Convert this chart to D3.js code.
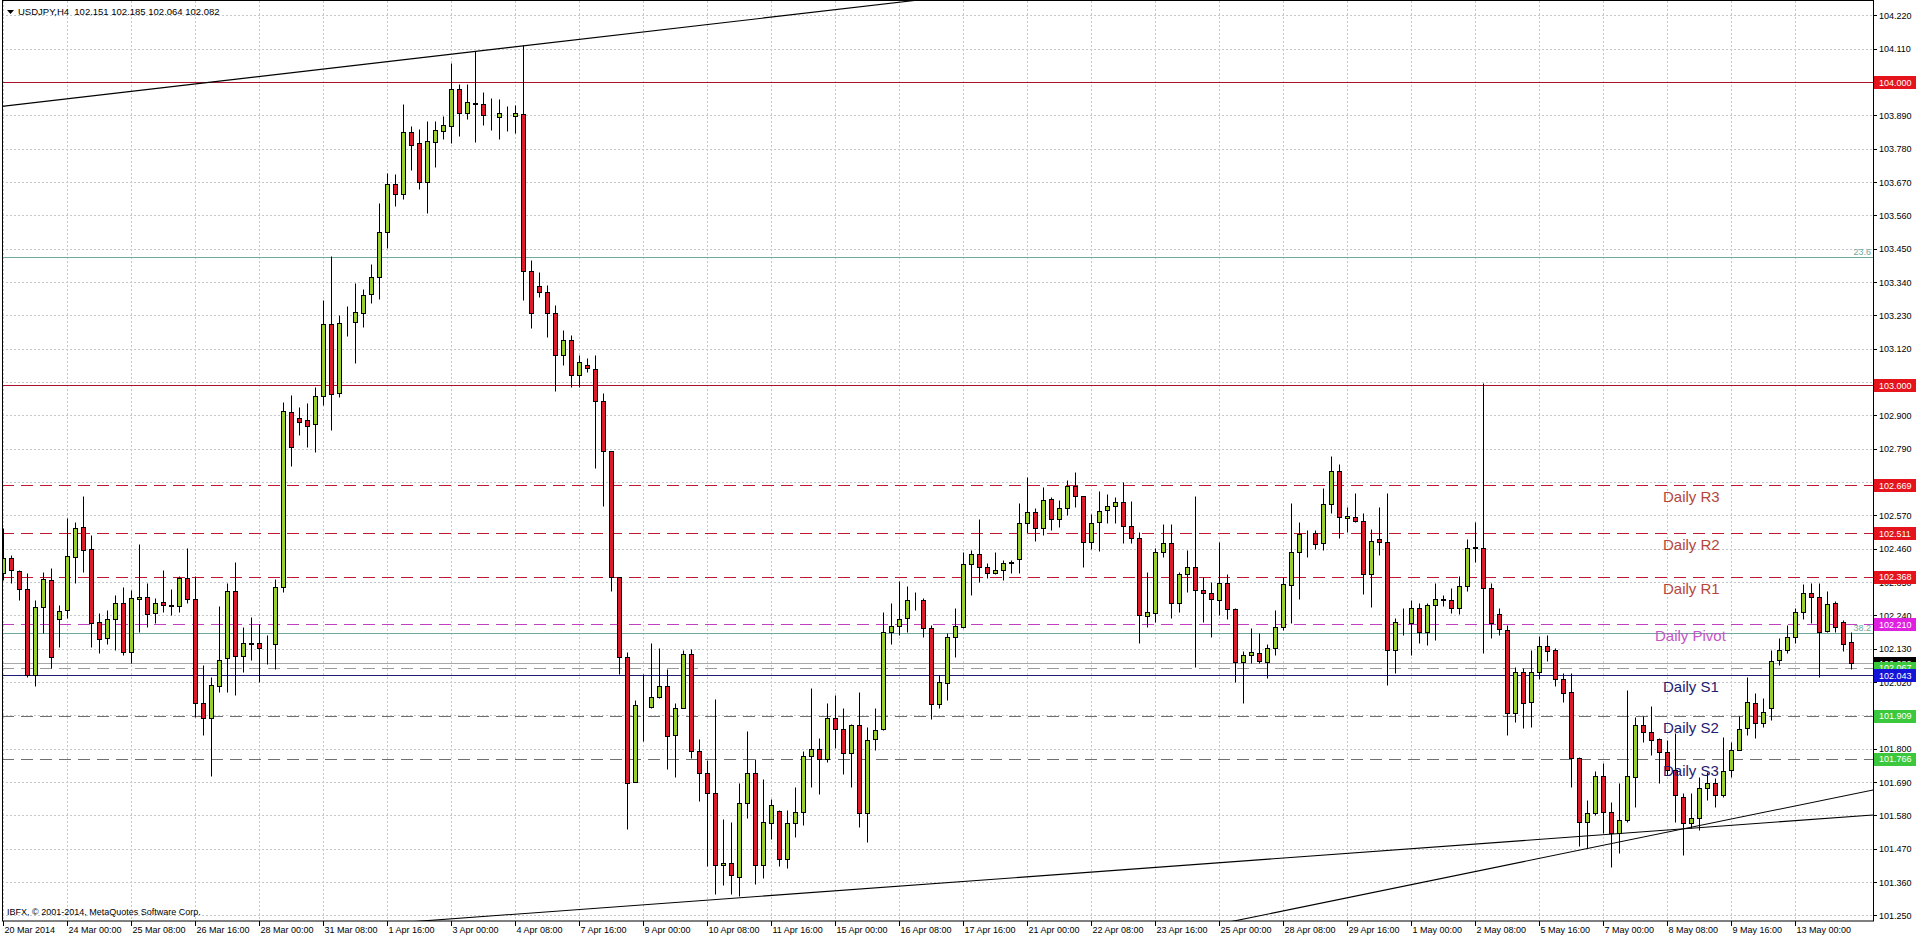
<!DOCTYPE html>
<html>
<head>
<meta charset="utf-8">
<script src="https://cdn.jsdelivr.net/npm/d3@7/dist/d3.min.js"></script>
<style>
  html, body { margin: 0; padding: 0; background: #ffffff; }
  svg { display: block; }
  text { font-family: "Liberation Sans", Arial, sans-serif; }
</style>
</head>
<body>
<svg id="chart" width="1916" height="939"></svg>
<script>
// ---------------- DATA ----------------
const symbolTitle = "USDJPY,H4";
const lastOHLC = [102.151, 102.185, 102.064, 102.082];

const timeLabels = [
  "20 Mar 2014", "24 Mar 00:00", "25 Mar 08:00", "26 Mar 16:00", "28 Mar 00:00",
  "31 Mar 08:00", "1 Apr 16:00", "3 Apr 00:00", "4 Apr 08:00", "7 Apr 16:00",
  "9 Apr 00:00", "10 Apr 08:00", "11 Apr 16:00", "15 Apr 00:00", "16 Apr 08:00",
  "17 Apr 16:00", "21 Apr 00:00", "22 Apr 08:00", "23 Apr 16:00", "25 Apr 00:00",
  "28 Apr 08:00", "29 Apr 16:00", "1 May 00:00", "2 May 08:00", "5 May 16:00",
  "7 May 00:00", "8 May 08:00", "9 May 16:00", "13 May 00:00"
];
const barsPerLabel = 8;

const priceTicks = [
  104.220, 104.110, 104.000, 103.890, 103.780, 103.670, 103.560, 103.450, 103.340,
  103.230, 103.120, 103.010, 102.900, 102.790, 102.680, 102.570, 102.460, 102.350,
  102.240, 102.130, 102.020, 101.910, 101.800, 101.690, 101.580, 101.470, 101.360, 101.250
];

const open = [
  102.379,102.429,102.386,102.326,102.042,102.267,102.356,102.227,102.257,102.432,
  102.531,102.458,102.217,102.165,102.227,102.280,102.118,102.293,102.300,102.247,
  102.283,102.273,102.270,102.362,102.293,101.950,101.900,102.006,102.099,102.320,
  102.105,102.148,102.148,102.138,102.145,102.333,102.910,102.891,102.884,102.871,
  102.963,103.201,102.973,103.204,103.207,103.237,103.300,103.356,103.504,103.663,
  103.630,103.834,103.798,103.669,103.801,103.838,103.854,103.977,103.897,103.930,
  103.927,103.887,103.884,103.894,103.887,103.894,103.376,103.327,103.307,103.237,
  103.099,103.148,103.033,103.066,103.053,102.947,102.782,102.366,102.102,101.690,
  101.937,101.937,101.970,102.006,101.844,101.934,102.112,101.792,101.719,101.653,
  101.416,101.422,101.376,101.620,101.719,101.416,101.554,101.594,101.435,101.554,
  101.590,101.775,101.798,101.765,101.900,101.864,101.785,101.877,101.587,101.831,
  101.864,102.184,102.204,102.231,102.290,102.290,102.198,101.947,102.016,102.168,
  102.201,102.409,102.442,102.399,102.379,102.389,102.412,102.425,102.544,102.580,
  102.528,102.623,102.557,102.594,102.666,102.633,102.481,102.547,102.587,102.600,
  102.613,102.534,102.495,102.237,102.247,102.448,102.478,102.280,102.376,102.399,
  102.323,102.313,102.290,102.346,102.260,102.085,102.108,102.115,102.085,102.132,
  102.201,102.339,102.448,102.508,102.511,102.478,102.607,102.716,102.561,102.564,
  102.551,102.376,102.491,102.481,102.125,102.217,102.214,102.264,102.184,102.273,
  102.293,102.290,102.264,102.336,102.462,102.462,102.330,102.244,102.191,101.917,
  102.052,101.953,102.052,102.138,102.125,102.029,101.986,101.769,101.557,101.587,
  101.709,101.590,101.521,101.564,101.706,101.877,101.854,101.831,101.788,101.729,
  101.640,101.554,101.571,101.670,101.686,101.647,101.729,101.795,101.868,101.950,
  101.884,101.934,102.092,102.125,102.168,102.250,102.313,102.300,102.188,102.280,
  102.217,102.151
];
const high = [
  102.528,102.438,102.389,102.379,102.290,102.382,102.395,102.273,102.561,102.548,
  102.633,102.504,102.247,102.257,102.306,102.333,102.323,102.475,102.346,102.297,
  102.389,102.326,102.369,102.462,102.369,102.075,102.036,102.270,102.346,102.415,
  102.201,102.234,102.211,102.174,102.359,102.943,102.967,102.927,102.940,102.993,
  103.280,103.425,103.230,103.260,103.336,103.316,103.399,103.600,103.699,103.696,
  103.927,103.854,103.844,103.871,103.871,103.887,104.063,103.994,103.994,104.103,
  103.967,103.947,103.944,103.920,103.924,104.122,103.412,103.373,103.330,103.264,
  103.181,103.165,103.099,103.089,103.099,102.973,102.782,102.366,102.118,101.960,
  102.046,102.148,102.132,102.062,101.950,102.125,102.128,101.832,101.762,101.963,
  101.567,101.557,101.686,101.858,101.765,101.699,101.633,101.597,101.597,101.673,
  101.792,101.999,101.835,101.950,101.976,101.934,101.881,101.986,101.871,101.934,
  102.250,102.280,102.353,102.336,102.316,102.297,102.207,102.042,102.181,102.264,
  102.448,102.455,102.557,102.412,102.448,102.422,102.422,102.610,102.696,102.594,
  102.663,102.630,102.620,102.686,102.712,102.633,102.574,102.650,102.640,102.630,
  102.679,102.617,102.514,102.382,102.462,102.541,102.541,102.382,102.455,102.633,
  102.366,102.349,102.481,102.376,102.264,102.122,102.198,102.181,102.145,102.257,
  102.366,102.610,102.548,102.521,102.521,102.660,102.765,102.739,102.597,102.643,
  102.577,102.524,102.597,102.643,102.231,102.264,102.290,102.280,102.280,102.346,
  102.306,102.330,102.369,102.491,102.548,103.006,102.346,102.264,102.207,102.069,
  102.066,102.125,102.171,102.174,102.132,102.049,102.049,101.772,101.630,101.726,
  101.752,101.623,101.686,101.993,101.904,101.907,101.940,101.835,101.828,101.851,
  101.653,101.653,101.706,101.723,101.703,101.838,101.822,101.907,102.036,101.983,
  101.966,102.125,102.165,102.207,102.264,102.343,102.346,102.346,102.320,102.287,
  102.224,102.185
];
const low = [
  102.356,102.346,102.290,102.036,102.006,102.181,102.066,102.135,102.231,102.346,
  102.382,102.135,102.115,102.145,102.125,102.108,102.082,102.184,102.201,102.214,
  102.250,102.240,102.250,102.280,101.904,101.844,101.709,101.986,101.986,101.976,
  102.052,102.092,102.019,102.079,102.062,102.316,102.733,102.835,102.795,102.778,
  102.933,102.851,102.960,103.161,103.072,103.191,103.270,103.283,103.452,103.590,
  103.614,103.709,103.646,103.567,103.719,103.811,103.798,103.821,103.877,103.801,
  103.858,103.841,103.811,103.838,103.831,103.280,103.188,103.290,103.158,102.980,
  103.066,102.993,102.993,103.043,102.726,102.600,102.320,102.046,101.534,101.690,
  101.825,101.934,101.966,101.732,101.706,101.934,101.769,101.627,101.412,101.320,
  101.350,101.320,101.313,101.571,101.353,101.373,101.501,101.412,101.406,101.508,
  101.548,101.673,101.650,101.755,101.802,101.716,101.673,101.541,101.492,101.795,
  101.861,102.145,102.174,102.184,102.257,102.168,101.897,101.934,101.960,102.102,
  102.198,102.306,102.349,102.362,102.376,102.356,102.379,102.379,102.511,102.485,
  102.504,102.521,102.531,102.570,102.597,102.399,102.458,102.452,102.544,102.544,
  102.478,102.478,102.148,102.201,102.217,102.432,102.231,102.250,102.316,102.069,
  102.217,102.168,102.240,102.227,102.019,101.950,102.082,102.082,102.033,102.108,
  102.191,102.214,102.293,102.432,102.458,102.455,102.577,102.495,102.514,102.548,
  102.310,102.267,102.438,102.009,102.049,102.174,102.108,102.148,102.142,102.158,
  102.270,102.247,102.244,102.320,102.415,102.115,102.165,102.174,101.844,101.887,
  101.867,101.871,102.029,102.089,102.006,101.953,101.673,101.478,101.472,101.580,
  101.521,101.409,101.455,101.557,101.607,101.822,101.779,101.686,101.712,101.557,
  101.449,101.538,101.531,101.630,101.607,101.640,101.706,101.795,101.844,101.835,
  101.871,101.894,102.075,102.115,102.148,102.227,102.214,102.036,102.184,102.184,
  102.122,102.064
];
const close = [
  102.429,102.389,102.326,102.042,102.267,102.359,102.102,102.254,102.435,102.528,
  102.455,102.214,102.161,102.227,102.280,102.118,102.297,102.300,102.244,102.280,
  102.273,102.270,102.362,102.293,101.950,101.900,102.009,102.092,102.320,102.105,
  102.148,102.147,102.132,102.138,102.333,102.914,102.795,102.877,102.864,102.963,
  103.201,102.970,103.204,103.204,103.240,103.296,103.356,103.504,103.663,103.630,
  103.834,103.791,103.669,103.805,103.841,103.858,103.977,103.897,103.934,103.927,
  103.890,103.887,103.897,103.894,103.897,103.376,103.237,103.307,103.237,103.099,
  103.148,103.033,103.076,103.056,102.947,102.782,102.366,102.102,101.686,101.944,
  101.937,101.970,102.006,101.841,101.934,102.112,101.792,101.719,101.653,101.416,
  101.422,101.383,101.620,101.719,101.416,101.557,101.613,101.435,101.554,101.590,
  101.775,101.798,101.765,101.900,101.864,101.785,101.877,101.587,101.828,101.861,
  102.184,102.204,102.227,102.290,102.290,102.198,101.947,102.019,102.168,102.204,
  102.409,102.442,102.399,102.379,102.389,102.412,102.415,102.544,102.580,102.528,
  102.620,102.557,102.594,102.666,102.633,102.481,102.544,102.584,102.600,102.613,
  102.534,102.495,102.240,102.250,102.448,102.478,102.280,102.376,102.399,102.323,
  102.313,102.293,102.346,102.260,102.085,102.108,102.118,102.089,102.132,102.201,
  102.343,102.448,102.508,102.508,102.475,102.607,102.716,102.564,102.567,102.551,
  102.376,102.485,102.481,102.125,102.217,102.217,102.264,102.184,102.273,102.293,
  102.290,102.264,102.336,102.462,102.465,102.330,102.214,102.194,101.917,102.052,
  101.950,102.052,102.138,102.122,102.029,101.983,101.769,101.557,101.587,101.709,
  101.590,101.521,101.564,101.709,101.877,101.854,101.828,101.788,101.729,101.647,
  101.554,101.571,101.670,101.686,101.647,101.726,101.795,101.864,101.953,101.884,
  101.920,102.089,102.125,102.168,102.250,102.313,102.300,102.184,102.277,102.201,
  102.145,102.082
];

// pivot levels (Daily)
const pivotNames  = ["Daily R3", "Daily R2", "Daily R1", "Daily Pivot", "Daily S1", "Daily S2", "Daily S3"];
const pivotValues = [102.669, 102.511, 102.368, 102.210, 102.043, 101.909, 101.766];
// round-number horizontal lines
const roundLevels = [104.000, 103.000];
// fibonacci levels
const fibNames  = ["23.6", "38.2"];
const fibValues = [103.421, 102.182];
// bid line and extra line
const bidPrice = 102.082;
const extraLevel = 102.067;
// trend lines: [barIndex, price] pairs
const trendStart = [[0, 103.920], [89, 101.302], [171, 101.324]];
const trendEnd   = [[110, 104.257], [229, 101.572], [229, 101.638]];

// ---------------- DRAW ----------------
const W = 1916, H = 939;
const L = 2, T = 1, R = 1873, B = 921;
const nBars = open.length;

const svg = d3.select("#chart");
svg.append("rect").attr("width", W).attr("height", H).attr("fill", "#ffffff");

const x = d3.scaleLinear().domain([0, nBars - 1]).range([3, 3 + 8 * (nBars - 1)]);
const y = d3.scaleLinear().domain([101.228, 104.264]).range([922, 2]);
const px = v => Math.round(x(v)) + 0.5;
const py = v => Math.round(y(v)) + 0.5;

svg.append("defs").append("clipPath").attr("id", "plotClip")
  .append("rect").attr("x", L).attr("y", T).attr("width", R - L).attr("height", B - T);

const plot = svg.append("g").attr("clip-path", "url(#plotClip)");

// grid
const gridColor = "#c4c8cc";
plot.append("g").selectAll("line").data(priceTicks).join("line")
  .attr("x1", L).attr("x2", R)
  .attr("y1", d => py(d)).attr("y2", d => py(d))
  .attr("stroke", gridColor).attr("stroke-dasharray", "2,2").attr("stroke-width", 1);
const labelIdx = timeLabels.map((d, k) => k * barsPerLabel);
plot.append("g").selectAll("line").data(labelIdx).join("line")
  .attr("x1", d => px(d)).attr("x2", d => px(d))
  .attr("y1", T).attr("y2", B)
  .attr("stroke", gridColor).attr("stroke-dasharray", "2,2").attr("stroke-width", 1);

// fib levels
const fibColor = "#6fa8a0";
plot.append("g").selectAll("line").data(fibValues).join("line")
  .attr("x1", L).attr("x2", R)
  .attr("y1", d => py(d)).attr("y2", d => py(d))
  .attr("stroke", fibColor).attr("stroke-width", 1);

// round levels
plot.append("g").selectAll("line").data(roundLevels).join("line")
  .attr("x1", L).attr("x2", R)
  .attr("y1", d => py(d)).attr("y2", d => py(d))
  .attr("stroke", "#a8142c").attr("stroke-width", 1);

// pivot lines
const pivotLineColors = ["#c01830", "#c01830", "#c01830", "#c040c0", "#1c1c70", "#707070", "#707070"];
const pivotLineDash   = ["12,7", "12,7", "12,7", "12,7", null, "12,7", "12,7"];
plot.append("g").selectAll("line").data(pivotValues).join("line")
  .attr("x1", L).attr("x2", R)
  .attr("y1", d => py(d)).attr("y2", d => py(d))
  .attr("stroke", (d, i) => pivotLineColors[i])
  .attr("stroke-dasharray", (d, i) => pivotLineDash[i])
  .attr("stroke-width", 1);

// bid + extra lines
plot.append("line").attr("x1", L).attr("x2", R)
  .attr("y1", py(bidPrice)).attr("y2", py(bidPrice))
  .attr("stroke", "#a8a8a8").attr("stroke-width", 1);
plot.append("line").attr("x1", L).attr("x2", R)
  .attr("y1", py(extraLevel)).attr("y2", py(extraLevel))
  .attr("stroke", "#9a9a9a").attr("stroke-dasharray", "12,7").attr("stroke-width", 1);

// trend lines (extended across the chart)
const trendData = trendStart.map((s, i) => [s, trendEnd[i]]);
plot.append("g").selectAll("line").data(trendData).join("line")
  .each(function (d) {
    const [a, b] = d;
    const slope = (b[1] - a[1]) / (b[0] - a[0]);
    const i0 = -5, i1 = nBars + 5;
    d3.select(this)
      .attr("x1", x(i0)).attr("y1", y(a[1] + slope * (i0 - a[0])))
      .attr("x2", x(i1)).attr("y2", y(a[1] + slope * (i1 - a[0])));
  })
  .attr("stroke", "#000").attr("stroke-width", 1.1);

// candles
const bars = d3.range(nBars);
const bullFill = "#9acd32", bearFill = "#dc1a2a";
const cg = plot.append("g");
cg.selectAll("line.wick").data(bars).join("line").attr("class", "wick")
  .attr("x1", i => px(i)).attr("x2", i => px(i))
  .attr("y1", i => py(high[i])).attr("y2", i => py(low[i]))
  .attr("stroke", "#000").attr("stroke-width", 1);
cg.selectAll("rect.body").data(bars).join("rect").attr("class", "body")
  .attr("x", i => Math.round(x(i)) - 1.5)
  .attr("width", 4)
  .attr("y", i => py(Math.max(open[i], close[i])))
  .attr("height", i => Math.max(0, py(Math.min(open[i], close[i])) - py(Math.max(open[i], close[i]))))
  .attr("fill", i => close[i] >= open[i] ? bullFill : bearFill)
  .attr("stroke", "#000").attr("stroke-width", 1);

// pivot texts
const pivotTextColors = ["#b4463c", "#b4463c", "#b4463c", "#c455c4", "#1e2070", "#1e2070", "#1e2070"];
const pivotTextX = [1663, 1663, 1663, 1655, 1663, 1663, 1663];
plot.append("g").selectAll("text").data(pivotNames).join("text")
  .attr("x", (d, i) => pivotTextX[i])
  .attr("y", (d, i) => y(pivotValues[i]) + 17)
  .attr("font-size", 15)
  .attr("fill", (d, i) => pivotTextColors[i])
  .text(d => d);

// fib texts
plot.append("g").selectAll("text").data(fibNames).join("text")
  .attr("x", R - 2)
  .attr("y", (d, i) => y(fibValues[i]) - 2)
  .attr("text-anchor", "end").attr("font-size", 9).attr("fill", fibColor)
  .text(d => d);

// header
svg.append("path").attr("d", "M7,10 L14,10 L10.5,14 Z").attr("fill", "#000");
svg.append("text").attr("x", 18).attr("y", 15).attr("font-size", 9.5).attr("fill", "#000")
  .attr("xml:space", "preserve")
  .text(symbolTitle + "  " + lastOHLC.map(v => v.toFixed(3)).join(" "));

// copyright
svg.append("text").attr("x", 7).attr("y", 915).attr("font-size", 9).attr("fill", "#000")
  .text("IBFX, \u00A9 2001-2014, MetaQuotes Software Corp.");

// frame
svg.append("rect").attr("x", L + 0.5).attr("y", T - 0.5).attr("width", R - L).attr("height", B - T + 0.5)
  .attr("fill", "none").attr("stroke", "#000").attr("stroke-width", 1);

// price label boxes on the axis (values)
const boxValues = [roundLevels[0], roundLevels[1], pivotValues[0], pivotValues[1], pivotValues[2], pivotValues[3],
                   bidPrice, extraLevel, pivotValues[4], pivotValues[5], pivotValues[6]];
const boxColors = ["#e5141c", "#e5141c", "#e5141c", "#e5141c", "#e5141c", "#e020e0",
                   "#000000", "#3cc83c", "#1414d8", "#3cc83c", "#3cc83c"];

// right axis ticks and labels (labels fully covered by a box are not drawn)
const ya = svg.append("g");
ya.selectAll("line").data(priceTicks).join("line")
  .attr("x1", R).attr("x2", R + 4)
  .attr("y1", d => py(d)).attr("y2", d => py(d)).attr("stroke", "#000");
const visibleTicks = priceTicks.filter(t => boxValues.every(b => Math.abs(y(t) - y(b)) > 4));
ya.selectAll("text").data(visibleTicks).join("text")
  .attr("x", R + 6).attr("y", d => y(d) + 3.5)
  .attr("font-size", 9).attr("fill", "#000")
  .text(d => d.toFixed(3));

// bottom axis ticks and labels
const xa = svg.append("g");
xa.selectAll("line").data(labelIdx).join("line")
  .attr("x1", d => px(d)).attr("x2", d => px(d))
  .attr("y1", B).attr("y2", B + 5).attr("stroke", "#000");
xa.selectAll("text").data(timeLabels).join("text")
  .attr("x", (d, k) => px(labelIdx[k]) + 1).attr("y", 933)
  .attr("font-size", 9).attr("fill", "#000")
  .text(d => d);

const bx = svg.append("g");
boxValues.forEach((v, i) => {
  bx.append("rect")
    .attr("x", R + 1).attr("width", W - R - 1)
    .attr("y", Math.round(y(v)) - 6).attr("height", 13)
    .attr("fill", boxColors[i]);
  bx.append("text")
    .attr("x", R + 6).attr("y", y(v) + 3.5)
    .attr("font-size", 9).attr("fill", "#ffffff")
    .text(v.toFixed(3));
});
</script>
</body>
</html>
